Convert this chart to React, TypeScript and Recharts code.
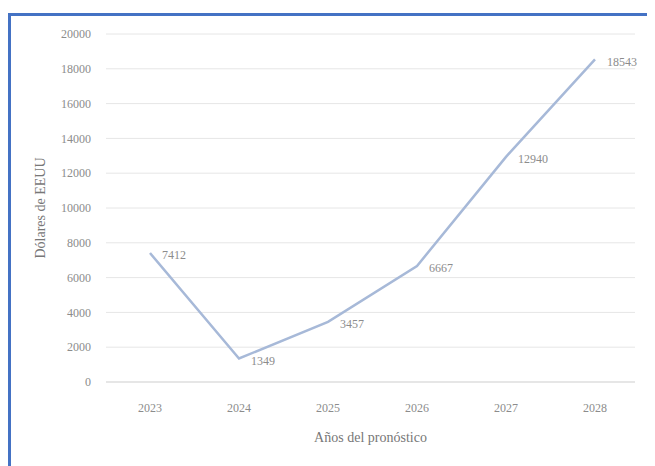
import { LineChart, Line, XAxis, YAxis, CartesianGrid, LabelList, Label } from "recharts"

const YEARS = ["2023", "2024", "2025", "2026", "2027", "2028"]
const VALUES = [7412, 1349, 3457, 6667, 12940, 18543]
const Y_TICKS = [0, 2000, 4000, 6000, 8000, 10000, 12000, 14000, 16000, 18000, 20000]

const FONT = "'Liberation Serif', 'DejaVu Serif', serif"

export default function App() {
  const rows = YEARS.map((year, i) => ({ year, value: VALUES[i] }))

  return (
    <div
      style={{
        marginTop: 5,
        width: 644,
        height: 450,
        borderTop: "3px solid #4472c4",
        borderLeft: "3px solid #4472c4",
        background: "#fff",
        fontFamily: FONT,
      }}
    >
      <LineChart width={644} height={450} data={rows} margin={{ top: 18, right: 20, bottom: 14, left: 15 }}>
        <CartesianGrid vertical={false} stroke="#e6e6e6" strokeWidth={1} />
        <XAxis
          dataKey="year"
          height={70}
          padding={{ left: 44, right: 40 }}
          tickLine={false}
          axisLine={{ stroke: "#d9d9d9" }}
          tickSize={6}
          tickMargin={15}
          tick={{ fill: "#8c8c8c", fontSize: 12, fontFamily: FONT }}
        >
          <Label
            value="Años del pronóstico"
            position="insideBottom"
            offset={10}
            style={{ fill: "#777", fontSize: 14, fontFamily: FONT }}
          />
        </XAxis>
        <YAxis
          width={80}
          domain={[0, 20000]}
          ticks={Y_TICKS}
          interval={0}
          tickLine={false}
          axisLine={false}
          tickSize={6}
          tickMargin={9}
          tick={{ fill: "#8c8c8c", fontSize: 12, fontFamily: FONT }}
        >
          <Label
            value="Dólares de EEUU"
            angle={-90}
            position="insideLeft"
            offset={14}
            style={{ fill: "#777", fontSize: 14, fontFamily: FONT, textAnchor: "middle" }}
          />
        </YAxis>
        <Line
          type="linear"
          dataKey="value"
          stroke="#a7b9d8"
          strokeWidth={2.5}
          dot={false}
          activeDot={false}
          isAnimationActive={false}
        >
          <LabelList
            dataKey="value"
            position="right"
            offset={12}
            dy={2}
            style={{ fill: "#8c8c8c", fontSize: 12, fontFamily: FONT }}
          />
        </Line>
      </LineChart>
    </div>
  )
}
